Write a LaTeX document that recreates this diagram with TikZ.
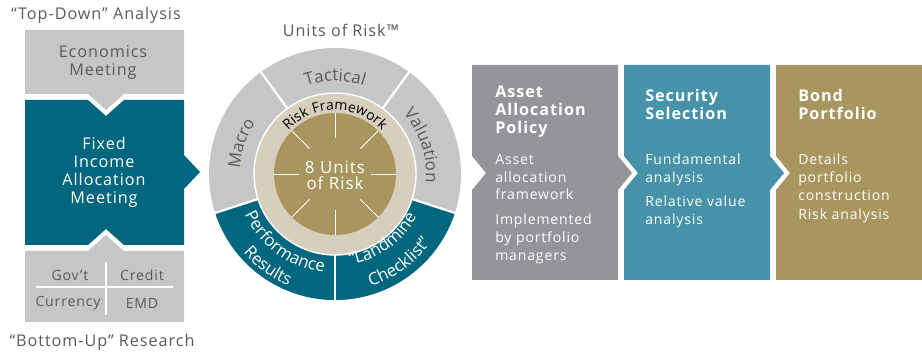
\documentclass[tikz,border=0pt]{standalone}
\usepackage{fontspec}
\setmainfont[LetterSpace=6]{Open Sans}
\usetikzlibrary{positioning, decorations.text}

\definecolor{PaleGrey}{HTML}{C5C6C8}
\definecolor{DeepTeal}{HTML}{00677F}
\definecolor{MidGrey}{HTML}{939598}
\definecolor{SeaBlue}{HTML}{4592A9}
\definecolor{Gold}{HTML}{A8965E}
\definecolor{Sand}{HTML}{D7CFBD}
\definecolor{TextDark}{HTML}{58595B}

\newcommand\arcfont{\fontsize{12}{12}\selectfont}
\newcommand\rimfont{\fontsize{10}{10}\selectfont}

\begin{document}
\begin{tikzpicture}[x=0.025cm, y=0.025cm,
  lbl/.style={font=\fontsize{11.5}{12.8}\selectfont, text=TextDark, align=center, inner sep=0pt},
  inv/.style={lbl, text=white},
  cell/.style={font=\fontsize{10}{12}\selectfont, text=TextDark, inner sep=0pt},
  head/.style={font=\fontsize{11.5}{12.8}\selectfont\bfseries, text=white,
               align=left, anchor=north west, inner sep=0pt},
  body/.style={font=\fontsize{10}{12.6}\selectfont, text=white,
               align=left, anchor=north west, inner sep=0pt},
  divider/.style={white, line width=1.6pt},
  arctext/.style={decorate, decoration={text along path, text align=center, text color=#1}},
]
  \useasboundingbox (0,0) rectangle (922,353);

  % left column: meeting boxes
  \fill[PaleGrey] (25,323) -- (184,323) -- (184,259) -- (124,259) -- (106,243)
                  -- (88,259) -- (25,259) -- cycle;
  \fill[DeepTeal] (25,253) -- (88,253) -- (106,237) -- (124,253) -- (184,253)
                  -- (184,198) -- (200,181) -- (184,164) -- (184,108) -- (124,108)
                  -- (106,124) -- (88,108) -- (25,108) -- cycle;
  \fill[PaleGrey] (25,102) -- (88,102) -- (106,118) -- (124,102) -- (184,102)
                  -- (184,31) -- (25,31) -- cycle;
  \draw[white, line width=0.8pt] (36,66) -- (173,66);
  \draw[white, line width=0.8pt] (106,91) -- (106,38);

  \node[lbl] (topdown) at (96,338) {“Top-Down” Analysis};
  \node[lbl] (econ) at (103,290) {Economics\\Meeting};
  \node[inv] (fiam) at (104,181) {Fixed\\Income\\Allocation\\Meeting};
  \node[cell] (govt) at (70,78) {Gov’t};
  \node[cell] (credit) at (142,78) {Credit};
  \node[cell] (ccy) at (68,50) {Currency};
  \node[cell] (emd) at (142,50) {EMD};
  \node[lbl] (bottomup) at (102,11) {“Bottom-Up” Research};

  % units of risk wheel
  \node[lbl] (units) at (341,323) {Units of Risk™};
  \begin{scope}[shift={(335,179)}]
    \fill[PaleGrey] (0,0) circle[radius=126];
    \fill[DeepTeal] (0,0) -- (198:126) arc[start angle=198, end angle=342, radius=126] -- cycle;
    \foreach \a in {54,126,198,270,342}
      \draw[divider] (0,0) -- (\a:127);
    \fill[Sand, draw=white, line width=1pt] (0,0) circle[radius=81];
    \fill[Gold] (0,0) circle[radius=61];
    \foreach \a in {0,45,...,315}
      \draw[white, line width=0.7pt] (\a:36) -- (\a:61);
    \node[inv, font=\fontsize{12}{11.4}\selectfont] (core) at (0,-1) {8 Units\\of Risk};

    \path[arctext=TextDark, decoration={text={|\arcfont|Tactical}}]
      (126:93) arc[start angle=126, end angle=54, radius=93];
    \path[arctext=TextDark, decoration={text={|\arcfont|Macro}}]
      (198:95) arc[start angle=198, end angle=126, radius=95];
    \path[arctext=TextDark, decoration={text={|\arcfont|Valuation}}]
      (54:91) arc[start angle=54, end angle=-18, radius=91];
    \path[arctext=white, decoration={text={|\arcfont|Performance}}]
      (198:99) arc[start angle=198, end angle=270, radius=99];
    \path[arctext=white, decoration={text={|\arcfont|Results}}]
      (198:121) arc[start angle=198, end angle=270, radius=121];
    \path[arctext=white, decoration={text={|\arcfont|“Landmine}}]
      (270:92) arc[start angle=270, end angle=342, radius=92];
    \path[arctext=white, decoration={text={|\arcfont|Checklist”}}]
      (270:118) arc[start angle=270, end angle=342, radius=118];
    \path[arctext=black, decoration={text={|\rimfont|Risk Framework}}]
      (140:64) arc[start angle=140, end angle=40, radius=64];
  \end{scope}

  % process steps
  \fill[MidGrey] (472,288) -- (618,288) -- (618,197) -- (632,180) -- (618,163)
                 -- (618,73) -- (472,73) -- (472,163) -- (486,180) -- (472,197) -- cycle;
  \fill[SeaBlue] (624,288) -- (770,288) -- (770,197) -- (784,180) -- (770,163)
                 -- (770,73) -- (624,73) -- (624,163) -- (638,180) -- (624,197) -- cycle;
  \fill[Gold] (776,288) -- (922,288) -- (922,73) -- (776,73) -- (776,163)
              -- (790,180) -- (776,197) -- cycle;

  \node[head] (policy) at (495,267) {Asset\\Allocation\\Policy};
  \node[body] (policya) at (495,199) {Asset\\allocation\\framework};
  \node[body] (policyb) at (495,139) {Implemented\\by portfolio\\managers};

  \node[head] (select) at (645,264) {Security\\Selection};
  \node[body] (selecta) at (645,199) {Fundamental\\analysis};
  \node[body] (selectb) at (645,157) {Relative value\\analysis};

  \node[head] (bond) at (798,264) {Bond\\Portfolio};
  \node[body] (bonda) at (798,199) {Details\\portfolio\\construction};
  \node[body] (bondb) at (798,144) {Risk analysis};
\end{tikzpicture}
\end{document}
